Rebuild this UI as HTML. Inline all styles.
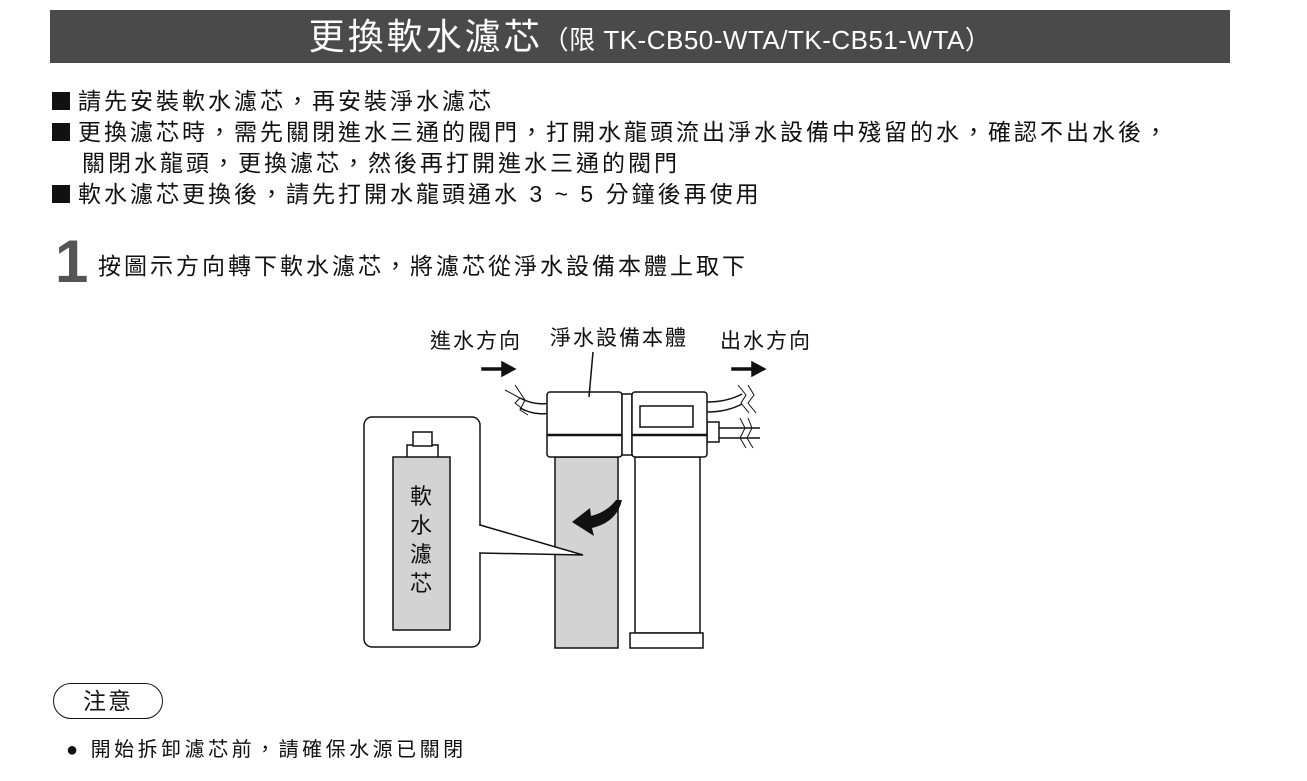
<!DOCTYPE html>
<html><head><meta charset="utf-8"><style>
body{margin:0;width:1307px;height:781px;background:#fff;position:relative;overflow:hidden;font-family:"Liberation Sans","Noto Sans CJK TC",sans-serif;color:#111}
.a{position:absolute;white-space:nowrap}
.hdr{left:50px;top:10px;width:1180px;height:53px;background:#4a4a4a;color:#fff;text-align:center;line-height:53px;font-size:36px;letter-spacing:3px}
.hdr small{font-size:26px;letter-spacing:0.5px}
.t{font-size:23px;letter-spacing:3px}
.sq{display:inline-block;width:18px;height:18px;background:#111;margin-right:8px;vertical-align:-1px}
.l{font-size:21px;letter-spacing:2px}
</style></head><body>
<div class="a hdr" style="padding-left:20px;box-sizing:border-box">更換軟水濾芯<small>（限 TK-CB50-WTA/TK-CB51-WTA）</small></div>
<div class="a t" style="left:52px;top:82px"><span class="sq"></span>請先安裝軟水濾芯，再安裝淨水濾芯</div>
<div class="a t" style="left:52px;top:113px"><span class="sq"></span>更換濾芯時，需先關閉進水三通的閥門，打開水龍頭流出淨水設備中殘留的水，確認不出水後，</div>
<div class="a t" style="left:82px;top:144px">關閉水龍頭，更換濾芯，然後再打開進水三通的閥門</div>
<div class="a t" style="left:52px;top:175px"><span class="sq"></span>軟水濾芯更換後，請先打開水龍頭通水 3 ~ 5 分鐘後再使用</div>
<div class="a" style="left:55px;top:230px;font-size:60px;font-weight:bold;color:#555;line-height:64px">1</div>
<div class="a t" style="left:98px;top:247px">按圖示方向轉下軟水濾芯，將濾芯從淨水設備本體上取下</div>
<div class="a l" style="left:430px;top:325px">進水方向</div>
<div class="a l" style="left:550px;top:322px">淨水設備本體</div>
<div class="a l" style="left:720px;top:325px">出水方向</div>
<svg class="a" style="left:0;top:0" width="1307" height="781">
<g stroke="#111" stroke-width="1.5" fill="#fff">
<path d="M482 368h20v-6l13 7-13 7v-6h-20z" fill="#111"/>
<path d="M732 368h20v-6l13 7-13 7v-6h-20z" fill="#111"/>
<path d="M520 398q15 8 30 5M520 408q15 8 30 5" fill="none"/>
<path d="M505 390l15 8-5 5 10 8M515 385l10 15-5 10 8 5" fill="none" stroke-width="1"/>
<path d="M707 402q20 0 35-8M707 412q20 0 35-8" fill="none"/>
<path d="M738 385l8 10-5 8 8 10M748 385l6 10-6 8 8 10" fill="none" stroke-width="1"/>
<path d="M715 428h45M715 438h45" fill="none"/>
<path d="M740 418l5 10-5 10 6 10M748 418l4 10-5 10 6 10" fill="none" stroke-width="1"/>
<rect x="707" y="422" width="12" height="20"/>
<rect x="364" y="417" width="116" height="230" rx="8"/>
<rect x="407" y="445" width="31" height="13"/>
<rect x="413" y="432" width="19" height="14"/>
<rect x="393" y="457" width="57" height="173" fill="#d3d3d3"/>
<rect x="555" y="457" width="63" height="191" fill="#d3d3d3"/>
<rect x="635" y="457" width="65" height="176"/>
<rect x="630" y="633" width="73" height="15"/>
<rect x="547" y="392" width="75" height="65" rx="3"/>
<line x1="547" y1="435" x2="622" y2="435" stroke-width="2.5"/>
<rect x="622" y="394" width="10" height="61"/>
<rect x="632" y="392" width="75" height="65" rx="3"/>
<line x1="632" y1="435" x2="707" y2="435" stroke-width="2.5"/>
<rect x="640" y="406" width="53" height="21"/>
<path d="M480 525L583 555 480 553" fill="#fff"/>
<line x1="480" y1="526" x2="480" y2="552" stroke="#fff" stroke-width="3"/>
<line x1="593" y1="352" x2="589" y2="397"/>
<path d="M622 500q-5 22-30 28l2 8-22-14 18-14 1 8q16-4 25-16z" fill="#111" stroke="none"/>
</g>
</svg>
<div class="a" style="left:410px;top:482px;font-size:22px;line-height:29px;width:24px">軟<br>水<br>濾<br>芯</div>
<div class="a" style="left:53px;top:683px;width:108px;height:34px;border:1.5px solid #111;border-radius:18px;text-align:center;line-height:34px;font-size:23px;letter-spacing:2px">注意</div>
<div class="a" style="left:66px;top:733px;font-size:20px;letter-spacing:3.5px">● 開始拆卸濾芯前，請確保水源已關閉</div>
</body></html>
